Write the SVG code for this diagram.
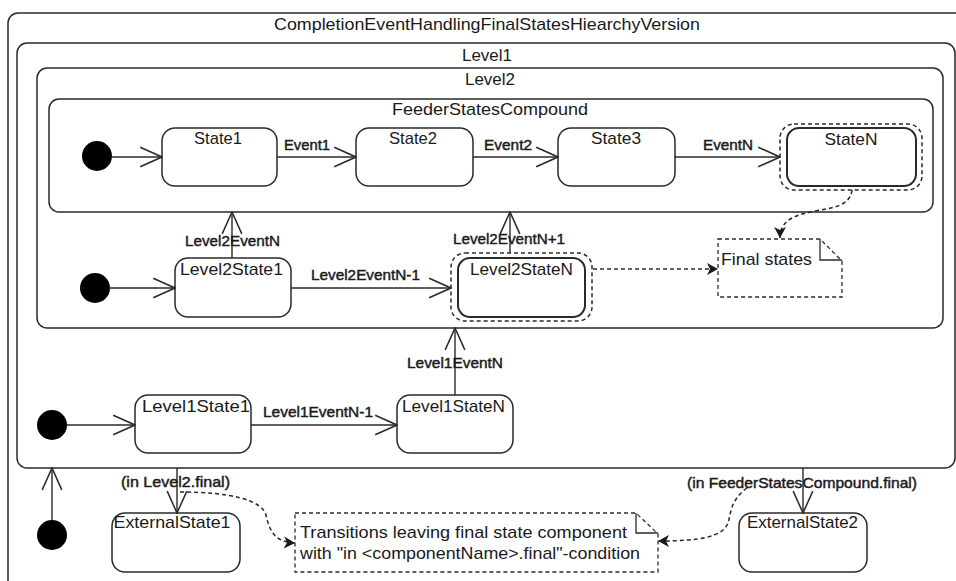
<svg xmlns="http://www.w3.org/2000/svg" width="956" height="581" viewBox="0 0 956 581">
  <style>
    .frame { fill: none; stroke: #2a2a2a; stroke-width: 1.5; }
    .state { fill: #fff; stroke: #2a2a2a; stroke-width: 1.5; }
    .final-in { fill: #fff; stroke: #2a2a2a; stroke-width: 2; }
    .final-out { fill: none; stroke: #2a2a2a; stroke-width: 1.5; stroke-dasharray: 4 3; }
    .init { fill: #000; }
    .edge { fill: none; stroke: #2a2a2a; stroke-width: 1.4; marker-end: url(#open); }
    .dashed { fill: none; stroke: #2a2a2a; stroke-width: 1.5; stroke-dasharray: 4 3; marker-end: url(#solid); }
    .note { fill: #fff; stroke: #2a2a2a; stroke-width: 1.3; stroke-dasharray: 4 3; }
    .fold { fill: none; stroke: #2a2a2a; stroke-width: 1.3; }
    text { font-family: "Liberation Sans", Arial, sans-serif; fill: #1a1a1a; }
    .lbl { font-size: 17px; text-anchor: middle; }
    .ev { font-size: 15px; text-anchor: middle; stroke: #1a1a1a; stroke-width: 0.45; }
    .nt { font-size: 17px; }
  </style>
  <defs>
    <marker id="open" markerUnits="userSpaceOnUse" markerWidth="24" markerHeight="22" viewBox="-21 -10 22 20" refX="0" refY="0" orient="auto">
      <path d="M-20,-9 L0,0 L-20,9" fill="none" stroke="#2a2a2a" stroke-width="1.4"/>
    </marker>
    <marker id="solid" markerUnits="userSpaceOnUse" markerWidth="14" markerHeight="14" viewBox="-12 -7 13 14" refX="0" refY="0" orient="auto">
      <path d="M-11,-6 L0,0 L-11,6 L-8,0 Z" fill="#1a1a1a"/>
    </marker>
  </defs>

  <!-- composite frames -->
  <g id="CompletionEventHandlingFinalStatesHiearchyVersion">
    <rect class="frame" x="8" y="13" width="970" height="600" rx="10"/>
    <text class="lbl" x="487" y="30" textLength="426" lengthAdjust="spacingAndGlyphs">CompletionEventHandlingFinalStatesHiearchyVersion</text>
  </g>
  <g id="Level1">
    <rect class="frame" x="17" y="43" width="938" height="425" rx="10"/>
    <text class="lbl" x="487" y="61" textLength="50" lengthAdjust="spacingAndGlyphs">Level1</text>
  </g>
  <g id="Level2">
    <rect class="frame" x="37" y="68" width="906" height="260" rx="10"/>
    <text class="lbl" x="490" y="85" textLength="50" lengthAdjust="spacingAndGlyphs">Level2</text>
  </g>
  <g id="FeederStatesCompound">
    <rect class="frame" x="49" y="99" width="884" height="113" rx="10"/>
    <text class="lbl" x="490" y="115" textLength="196" lengthAdjust="spacingAndGlyphs">FeederStatesCompound</text>
  </g>

  <!-- initial pseudo-states -->
  <g id="InitFeeder"><circle class="init" cx="97" cy="156" r="15"/></g>
  <g id="InitLevel2"><circle class="init" cx="95" cy="288" r="15"/></g>
  <g id="InitLevel1"><circle class="init" cx="52" cy="425" r="15"/></g>
  <g id="InitTop"><circle class="init" cx="52" cy="535" r="15"/></g>

  <!-- simple states -->
  <g id="State1">
    <rect class="state" x="162" y="128" width="115" height="58" rx="13"/>
    <text class="lbl" x="218" y="144" textLength="48" lengthAdjust="spacingAndGlyphs">State1</text>
  </g>
  <g id="State2">
    <rect class="state" x="356" y="128" width="117" height="58" rx="13"/>
    <text class="lbl" x="413" y="144" textLength="48" lengthAdjust="spacingAndGlyphs">State2</text>
  </g>
  <g id="State3">
    <rect class="state" x="558" y="128" width="117" height="58" rx="13"/>
    <text class="lbl" x="616" y="144" textLength="50" lengthAdjust="spacingAndGlyphs">State3</text>
  </g>
  <g id="StateN">
    <rect class="final-out" x="780" y="124" width="142" height="66" rx="14"/>
    <rect class="final-in" x="787" y="128" width="129" height="58" rx="12"/>
    <text class="lbl" x="851" y="145" textLength="53" lengthAdjust="spacingAndGlyphs">StateN</text>
  </g>
  <g id="Level2State1">
    <rect class="state" x="175" y="258" width="116" height="59" rx="13"/>
    <text class="lbl" x="231.5" y="275" textLength="103" lengthAdjust="spacingAndGlyphs">Level2State1</text>
  </g>
  <g id="Level2StateN">
    <rect class="final-out" x="451" y="253" width="141" height="68" rx="14"/>
    <rect class="final-in" x="458" y="258" width="127" height="59" rx="12"/>
    <text class="lbl" x="521.5" y="275" textLength="103" lengthAdjust="spacingAndGlyphs">Level2StateN</text>
  </g>
  <g id="Level1State1">
    <rect class="state" x="135" y="395" width="116" height="58" rx="13"/>
    <text class="lbl" x="196" y="412" textLength="108" lengthAdjust="spacingAndGlyphs">Level1State1</text>
  </g>
  <g id="Level1StateN">
    <rect class="state" x="397" y="395" width="116" height="58" rx="13"/>
    <text class="lbl" x="453.5" y="412" textLength="103" lengthAdjust="spacingAndGlyphs">Level1StateN</text>
  </g>
  <g id="ExternalState1">
    <rect class="state" x="112" y="513" width="128" height="59" rx="13"/>
    <text class="lbl" x="172" y="528" textLength="117" lengthAdjust="spacingAndGlyphs">ExternalState1</text>
  </g>
  <g id="ExternalState2">
    <rect class="state" x="739" y="513" width="128" height="59" rx="13"/>
    <text class="lbl" x="802.5" y="528" textLength="111" lengthAdjust="spacingAndGlyphs">ExternalState2</text>
  </g>

  <!-- notes -->
  <g id="NoteFinalStates">
    <path class="note" d="M718,239 H820 L842,261 V297 H718 Z"/>
    <path class="fold" d="M820,239 V260 H842"/>
    <text class="nt" x="721" y="265" textLength="91" lengthAdjust="spacingAndGlyphs">Final states</text>
  </g>
  <g id="NoteTransitions">
    <path class="note" d="M295,513 H636 L658,534 V572 H295 Z"/>
    <path class="fold" d="M636,513 V533 H658"/>
    <text class="nt" x="300" y="538" textLength="327" lengthAdjust="spacingAndGlyphs">Transitions leaving final state component</text>
    <text class="nt" x="300" y="559" textLength="340" lengthAdjust="spacingAndGlyphs">with "in &lt;componentName&gt;.final"-condition</text>
  </g>

  <!-- transitions and note links -->
  <g id="connectors">
    <path class="edge" d="M112,157 H162"/>
    <path class="edge" d="M277,157 H356"/>
    <path class="edge" d="M473,157 H558"/>
    <path class="edge" d="M675,157 H780"/>
    <path class="edge" d="M110,288 H175"/>
    <path class="edge" d="M291,288 H451"/>
    <path class="edge" d="M232,258 V212"/>
    <path class="edge" d="M510,253 V212"/>
    <path class="edge" d="M67,425 H135"/>
    <path class="edge" d="M251,425 H397"/>
    <path class="edge" d="M455,395 V328"/>
    <path class="edge" d="M52,520 V468"/>
    <path class="edge" d="M177,468 V513"/>
    <path class="edge" d="M803,468 V513"/>

    <path class="dashed" d="M852,190 C850,210 822,208 802,214 C786,219 780,226 780,238"/>
    <path class="dashed" d="M593,269 H718"/>
    <path class="dashed" d="M180,492 C230,492 262,500 266,515 C270,533 276,542 295,543"/>
    <path class="dashed" d="M747,488 C730,500 731,514 728,523 C723,537 700,541 658,541"/>

    <text class="ev" x="307" y="150" textLength="46" lengthAdjust="spacingAndGlyphs">Event1</text>
    <text class="ev" x="508" y="150" textLength="48" lengthAdjust="spacingAndGlyphs">Event2</text>
    <text class="ev" x="728" y="150" textLength="50" lengthAdjust="spacingAndGlyphs">EventN</text>
    <text class="ev" x="232.5" y="246" textLength="95" lengthAdjust="spacingAndGlyphs">Level2EventN</text>
    <text class="ev" x="509" y="244" textLength="112" lengthAdjust="spacingAndGlyphs">Level2EventN+1</text>
    <text class="ev" x="365.5" y="280" textLength="109" lengthAdjust="spacingAndGlyphs">Level2EventN-1</text>
    <text class="ev" x="455" y="368" textLength="96" lengthAdjust="spacingAndGlyphs">Level1EventN</text>
    <text class="ev" x="318" y="417" textLength="110" lengthAdjust="spacingAndGlyphs">Level1EventN-1</text>
    <text class="ev" x="175.5" y="487" textLength="109" lengthAdjust="spacingAndGlyphs">(in Level2.final)</text>
    <text class="ev" x="802" y="488" textLength="230" lengthAdjust="spacingAndGlyphs">(in FeederStatesCompound.final)</text>
  </g>
</svg>
